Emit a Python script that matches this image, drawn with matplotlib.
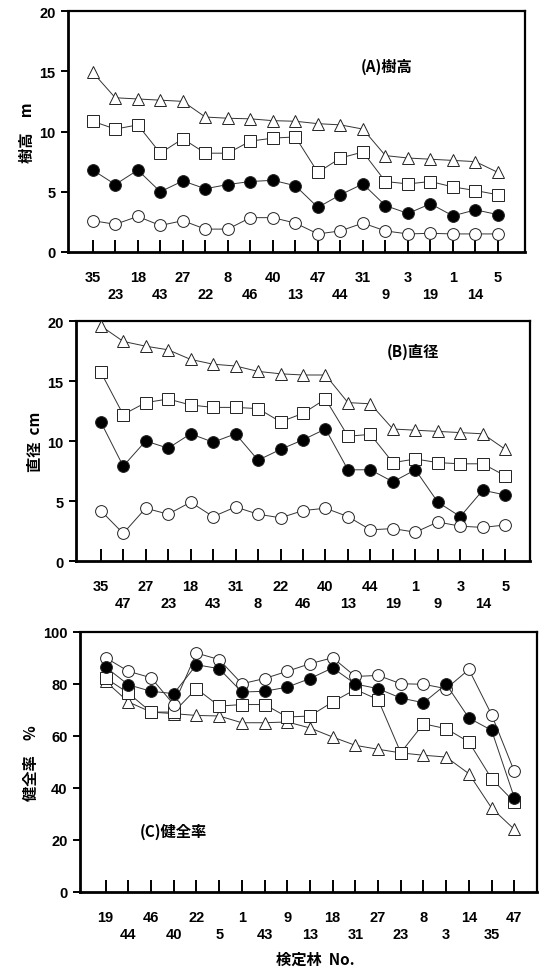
import matplotlib
matplotlib.use("Agg")
import matplotlib.pyplot as plt

plt.rcParams['font.family'] = ['Liberation Sans', 'Noto Sans CJK JP', 'DejaVu Sans']

# ---------------- data ----------------
a_labels = ["35", "23", "18", "43", "27", "22", "8", "46", "40", "13",
            "47", "44", "31", "9", "3", "19", "1", "14", "5"]
a_tri = [14.9, 12.8, 12.7, 12.6, 12.5, 11.2, 11.1, 11.05, 10.9, 10.85,
         10.65, 10.55, 10.2, 8.0, 7.8, 7.7, 7.6, 7.5, 6.6]
a_sq = [10.85, 10.2, 10.55, 8.2, 9.4, 8.2, 8.2, 9.2, 9.45, 9.55,
        6.6, 7.8, 8.3, 5.85, 5.65, 5.85, 5.4, 5.1, 4.75]
a_fill = [6.8, 5.6, 6.8, 5.0, 5.9, 5.25, 5.6, 5.85, 5.95, 5.5,
          3.7, 4.75, 5.65, 3.85, 3.2, 4.0, 3.0, 3.5, 3.1]
a_open = [2.6, 2.3, 2.95, 2.2, 2.6, 1.9, 1.9, 2.85, 2.85, 2.4,
          1.5, 1.75, 2.4, 1.75, 1.5, 1.55, 1.5, 1.5, 1.5]

b_labels = ["35", "47", "27", "23", "18", "43", "31", "8", "22", "46",
            "40", "13", "44", "19", "1", "9", "3", "14", "5"]
b_tri = [19.6, 18.3, 17.9, 17.6, 16.8, 16.4, 16.25, 15.8, 15.6, 15.5,
         15.5, 13.2, 13.1, 11.0, 10.9, 10.8, 10.7, 10.6, 9.3]
b_sq = [15.75, 12.2, 13.2, 13.5, 13.0, 12.8, 12.8, 12.7, 11.6, 12.3,
        13.5, 10.4, 10.55, 8.2, 8.5, 8.2, 8.1, 8.1, 7.1]
b_fill = [11.6, 7.9, 10.0, 9.4, 10.6, 9.9, 10.6, 8.4, 9.3, 10.1,
          11.0, 7.6, 7.6, 6.6, 7.6, 4.9, 3.7, 5.9, 5.5]
b_open = [4.2, 2.3, 4.4, 3.9, 4.9, 3.7, 4.5, 3.9, 3.6, 4.2,
          4.4, 3.7, 2.6, 2.7, 2.4, 3.25, 2.9, 2.8, 3.0]

c_labels = ["19", "44", "46", "40", "22", "5", "1", "43", "9", "13",
            "18", "31", "27", "23", "8", "3", "14", "35", "47"]
c_open = [90.1, 84.9, 82.4, 72.1, 91.9, 89.4, 80.1, 82.1, 84.9, 87.8,
          90.1, 82.9, 83.3, 80.1, 79.9, 78.2, 85.6, 68.2, 46.4]
c_fill = [86.5, 79.7, 77.2, 76.3, 87.4, 85.9, 76.9, 77.2, 78.8, 82.1,
          86.2, 80.0, 78.2, 74.6, 72.8, 79.9, 66.9, 62.2, 36.3]
c_sq = [82.3, 76.5, 69.2, 69.2, 78.2, 71.5, 72.1, 72.1, 67.3, 67.7,
        73.1, 77.9, 74.0, 53.6, 64.7, 62.8, 57.7, 43.6, 34.6]
c_tri = [81.0, 73.1, 69.2, 68.6, 67.9, 67.7, 65.1, 65.1, 65.4, 63.1,
         59.6, 56.4, 54.9, 53.5, 52.6, 51.9, 45.5, 32.3, 24.1]

# ---------------- figure ----------------
fig = plt.figure(figsize=(5.39, 9.70), dpi=100)

W, H = 539.0, 970.0
def rect(l, r, t, b):
    return [l / W, 1 - b / H, (r - l) / W, (b - t) / H]

ax_a = fig.add_axes(rect(68, 525, 12, 253))
ax_b = fig.add_axes(rect(76, 530, 322, 562))
ax_c = fig.add_axes(rect(80, 537, 633, 893))

cjk = ['Noto Sans CJK JP', 'DejaVu Sans']
tick_font = dict(family=['Liberation Sans', 'DejaVu Sans'], weight='bold', size=10.5)

def draw(ax, labels, series, ylim, yticks, xlim, ylabel, title, title_xy):
    x = list(range(len(labels)))
    styles = {
        'tri': dict(marker='^', mfc='white', ms=9),
        'sq': dict(marker='s', mfc='white', ms=8),
        'fill': dict(marker='o', mfc='black', ms=8.5),
        'open': dict(marker='o', mfc='white', ms=8.5),
    }
    for key, vals in series:
        st = styles[key]
        ax.plot(x, vals, color='#333333', lw=0.7, marker=st['marker'],
                ms=st['ms'], mfc=st['mfc'], mec='#222222', mew=0.7, zorder=3)
    ax.set_xlim(*xlim)
    ax.set_ylim(*ylim)
    ax.set_yticks(yticks)
    ax.set_yticklabels([str(v) for v in yticks], fontdict=tick_font)
    ax.set_xticks(x)
    ax.set_xticklabels([lab if i % 2 == 0 else "\n" + lab for i, lab in enumerate(labels)],
                       fontdict=tick_font, linespacing=1.25)
    ax.tick_params(axis='x', direction='in', length=9, width=1.4, pad=13)
    ax.tick_params(axis='y', direction='out', length=5, width=1.4, pad=4)
    for s in ['left', 'bottom']:
        ax.spines[s].set_linewidth(2.0)
    for s in ['top', 'right']:
        ax.spines[s].set_linewidth(1.6)
    ax.set_ylabel(ylabel, family=cjk, weight='bold', size=11, labelpad=3)
    ax.text(title_xy[0], title_xy[1], title, transform=ax.transAxes,
            family=cjk, weight='bold', size=11, ha='center', va='center')

draw(ax_a, a_labels,
     [('tri', a_tri), ('sq', a_sq), ('fill', a_fill), ('open', a_open)],
     (0, 20), [0, 5, 10, 15, 20], (-1.1, 19.2), "樹高　m", "(A)樹高",
     ((387 - 68) / 457, (253 - 67) / 241))

draw(ax_b, b_labels,
     [('tri', b_tri), ('sq', b_sq), ('fill', b_fill), ('open', b_open)],
     (0, 20), [0, 5, 10, 15, 20], (-1.1, 19.1), "直径  cm", "(B)直径",
     ((413 - 76) / 454, (562 - 352) / 240))

draw(ax_c, c_labels,
     [('tri', c_tri), ('sq', c_sq), ('open', c_open), ('fill', c_fill)],
     (0, 100), [0, 20, 40, 60, 80, 100], (-1.13, 19.0), "健全率　%", "(C)健全率",
     ((173 - 80) / 457, (893 - 832) / 260))

fig.text(315 / W, 1 - 960 / H, "検定林  No.", family=cjk, weight='bold', size=11,
         ha='center', va='center')

fig.savefig("out.png", dpi=100)
